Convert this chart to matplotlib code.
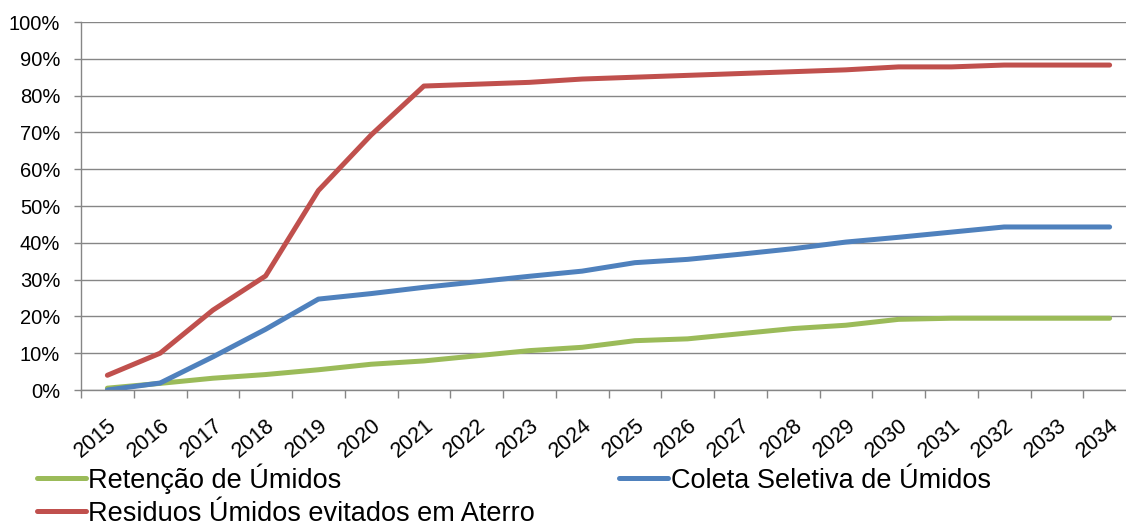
import matplotlib.pyplot as plt
from matplotlib.ticker import PercentFormatter
import numpy as np

plt.rcParams['font.family'] = ['Liberation Sans', 'DejaVu Sans']

anos = [str(a) for a in range(2015, 2035)]

# valores em %
retencao = [0.5, 1.8, 3.2, 4.2, 5.5, 7.0, 7.9, 9.3, 10.7, 11.6,
            13.4, 13.9, 15.3, 16.7, 17.6, 19.2, 19.5, 19.5, 19.5, 19.5]
coleta = [0.0, 1.9, 9.0, 16.5, 24.7, 26.2, 27.9, 29.4, 30.9, 32.3,
          34.6, 35.5, 36.9, 38.4, 40.2, 41.5, 42.9, 44.3, 44.3, 44.3]
evitados = [4.0, 10.0, 21.7, 31.0, 54.2, 69.3, 82.6, 83.1, 83.6, 84.5,
            85.0, 85.5, 86.0, 86.5, 87.0, 87.8, 87.8, 88.3, 88.3, 88.3]

verde = '#9BBB59'
azul = '#4F81BD'
vermelho = '#C0504D'
cinza = '#868686'

fig = plt.figure(figsize=(11.26, 5.26), dpi=100)
# o eixo passa da borda direita da figura (como no original recortado)
ax = fig.add_axes([81/1126, 136/526, 1055/1126, 368/526])

x = np.arange(len(anos))
l1, = ax.plot(x, retencao, color=verde, lw=3.6, solid_capstyle='round', label='Retenção de Úmidos')
l2, = ax.plot(x, coleta, color=azul, lw=3.6, solid_capstyle='round', label='Coleta Seletiva de Úmidos')
l3, = ax.plot(x, evitados, color=vermelho, lw=3.6, solid_capstyle='round', label='Residuos Úmidos evitados em Aterro')

ax.set_xlim(-0.5, len(anos) - 0.5)
ax.set_ylim(0, 100)
ax.set_yticks(np.arange(0, 101, 10))
ax.yaxis.set_major_formatter(PercentFormatter(decimals=0))
ax.yaxis.grid(True, color=cinza, lw=1.0)
ax.set_axisbelow(True)

ax.set_xticks(x)
ax.set_xticklabels(anos, rotation=40, ha='right', va='top', rotation_mode='anchor')
ax.set_xticks(np.arange(-0.5, len(anos), 1), minor=True)
ax.tick_params(axis='x', which='major', length=0, pad=18, labelsize=15.5)
ax.tick_params(axis='x', which='minor', length=6, color=cinza, width=1)
ax.tick_params(axis='y', length=5, color=cinza, width=1, pad=10, labelsize=14.5)

for lado in ['top', 'right']:
    ax.spines[lado].set_visible(False)
for lado in ['left', 'bottom']:
    ax.spines[lado].set_color(cinza)
    ax.spines[lado].set_linewidth(1)

fig.legend(handles=[l1, l3, l2], loc='upper left', bbox_to_anchor=(37/1126, 1 - 463/526),
           ncol=2, frameon=False, fontsize=19.5, handlelength=1.8, handletextpad=0.1,
           labelspacing=0.26, columnspacing=3.1, borderpad=0, borderaxespad=0)

fig.savefig('out.png', dpi=100)
